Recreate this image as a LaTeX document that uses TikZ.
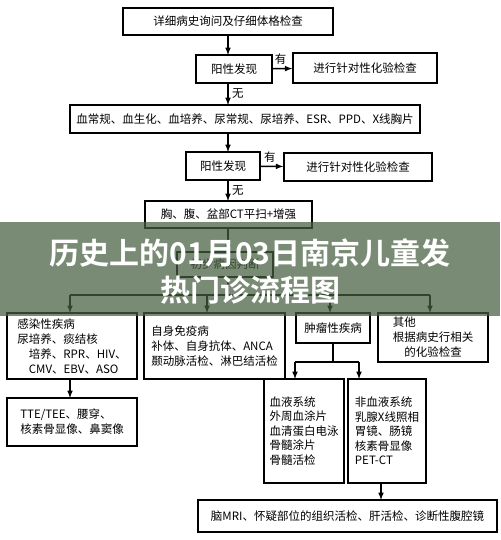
\documentclass[tikz,border=0pt]{standalone}
\usepackage{fontspec}
\setmainfont{Noto Sans CJK SC}
\newfontfamily\bannerfont{Noto Sans CJK SC}[BoldFont={* Bold}]
\usetikzlibrary{arrows}
\definecolor{banner}{RGB}{70,95,65}

\begin{document}
\begin{tikzpicture}[x=1pt, y=-1pt, line width=1.5pt,
        box/.style = {draw, minimum height=#1, inner sep=2pt, font=\fontsize{11.5}{15}\selectfont},
        box/.default = 28pt,
        tall/.style = {draw, inner sep=2pt, align=left, font=\fontsize{11.5}{15}\selectfont},
        arr/.style = {-latex}]
        \useasboundingbox (0,0) rectangle (500,540);
        \fill[white] (0,0) rectangle (500,540);
        % top chain
        \node[box=27pt, minimum width=210pt] (hist) at (228,21.5) {详细病史询问及仔细体格检查};
        \node[box, minimum width=76pt] (pos1) at (234,69) {阳性发现};
        \node[box=30pt, minimum width=144pt] (lab1) at (365,68) {进行针对性化验检查};
        \node[box, minimum width=350pt] (basic) at (245,119) {血常规、血生化、血培养、尿常规、尿培养、ESR、PPD、X线胸片};
        \node[box, minimum width=74pt] (pos2) at (223,166) {阳性发现};
        \node[box, minimum width=148pt] (lab2) at (358,167) {进行针对性化验检查};
        \node[box=27pt, minimum width=167pt] (ct) at (228.5,214.5) {胸、腹、盆部CT平扫+增强};
        \node[box=25pt, minimum width=96pt] (cause) at (225,264.5) {初步病因判断};
        \draw[arr] (228,35) -- (228,55);
        \draw[arr] (pos1) -- (lab1) node[pos=0.4, above, font=\fontsize{11.5}{14}\selectfont] {有};
        \draw[arr] (228,83) -- (228,105) node[midway, right, font=\fontsize{11.5}{14}\selectfont] {无};
        \draw[arr] (228,133) -- (228,152);
        \draw[arr] (pos2) -- (lab2) node[pos=0.4, above, font=\fontsize{11.5}{14}\selectfont] {有};
        \draw[arr] (228,180) -- (228,201) node[midway, right, font=\fontsize{11.5}{14}\selectfont] {无};
        \draw[arr] (228,228) -- (228,252);
        % four groups
        \node[tall, minimum width=130pt, minimum height=66pt] (inf) at (72,346)
            {感染性疾病\\尿培养、痰结核\\\hspace*{1em}培养、RPR、HIV、\\\hspace*{1em}CMV、EBV、ASO};
        \node[tall, minimum width=141pt, minimum height=66pt] (auto) at (214.5,346)
            {自身免疫病\\补体、自身抗体、ANCA\\颞动脉活检、淋巴结活检};
        \node[box=30pt, minimum width=74pt] (tumor) at (333,328) {肿瘤性疾病};
        \node[tall, minimum width=110pt, minimum height=49pt] (other) at (433,337.5)
            {其他\\根据病史行相关\\\hspace*{1em}的化验检查};
        \draw (228,277) -- (228,295);
        \draw (70,295) -- (430,295);
        \foreach \x in {70,207,330,430}
            \draw[arr] (\x,295) -- (\x,313);
        % infection branch
        \node[tall, minimum width=130pt, minimum height=48pt] (inf2) at (72,422)
            {TTE/TEE、腰穿、\\核素骨显像、鼻窦像};
        \draw[arr] (70,379) -- (70,398);
        % tumour branch
        \node[tall, minimum width=80pt, minimum height=104pt, font=\fontsize{11.5}{14.5}\selectfont] (blood) at (304,431)
            {血液系统\\外周血涂片\\血清蛋白电泳\\骨髓涂片\\骨髓活检};
        \node[tall, minimum width=78pt, minimum height=104pt, font=\fontsize{11.5}{14.5}\selectfont] (nonblood) at (387,431)
            {非血液系统\\乳腺X线照相\\胃镜、肠镜\\核素骨显像\\PET-CT};
        \draw (333,343) -- (333,362);
        \draw (295,362) -- (359,362);
        \draw[arr] (295,362) -- (295,379);
        \draw[arr] (359,362) -- (359,379);
        \node[box=32pt, minimum width=299pt] (final) at (347.5,516)
            {脑MRI、怀疑部位的组织活检、肝活检、诊断性腹腔镜};
        \draw[arr] (381,483) -- (381,500);
        % banner
        \fill[banner, opacity=0.72] (0,222) rectangle (500,316);
        \node[white, font=\bannerfont\bfseries\fontsize{30}{37}\selectfont, align=center] (title) at (250,271)
            {历史上的01月03日南京儿童发\\热门诊流程图};
\end{tikzpicture}
\end{document}
